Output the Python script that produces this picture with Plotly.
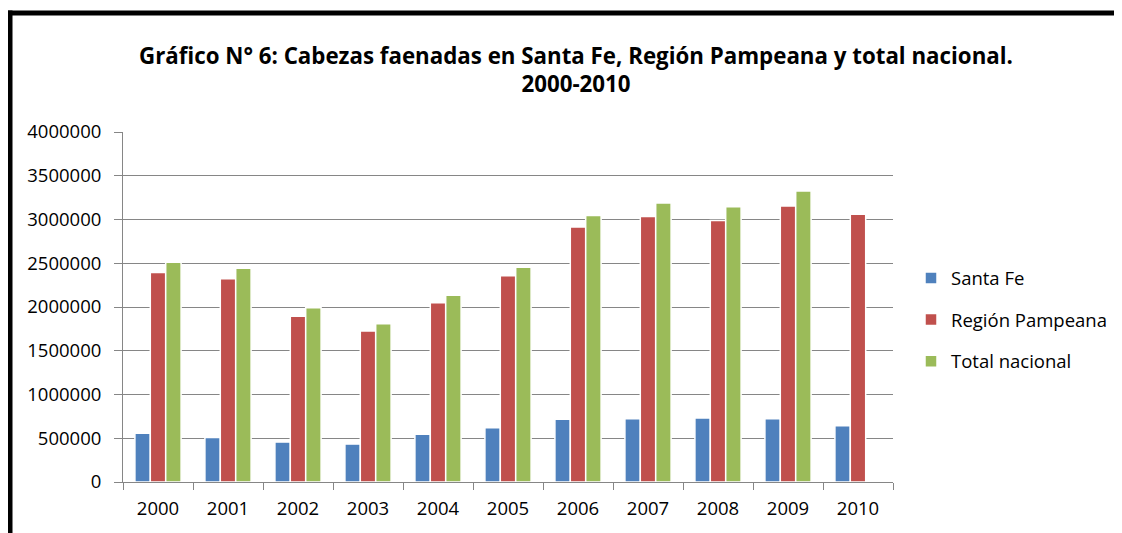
import plotly.graph_objects as go

years = ["2000", "2001", "2002", "2003", "2004", "2005", "2006", "2007", "2008", "2009", "2010"]
santa_fe = [556000, 510000, 456000, 433000, 545000, 621000, 717000, 724000, 732000, 724000, 644000]
region_pampeana = [2393000, 2324000, 1893000, 1725000, 2049000, 2357000, 2913000, 3034000, 2989000, 3153000, 3061000]
total_nacional = [2511000, 2443000, 1992000, 1808000, 2133000, 2454000, 3046000, 3190000, 3146000, 3326000, None]

series_names = ["Santa Fe", "Región Pampeana", "Total nacional"]
colors = ["#4F81BD", "#C0504D", "#9BBB59"]
title_text = "Gráfico N° 6: Cabezas faenadas en Santa Fe, Región Pampeana y total nacional.<br>2000-2010"

FONT = "'Open Sans', Lato, sans-serif"

fig = go.Figure()
for name, vals, col in zip(series_names, [santa_fe, region_pampeana, total_nacional], colors):
    fig.add_trace(go.Bar(
        x=years, y=vals, name=name, legendgroup=name,
        marker=dict(color=col, line=dict(color="white", width=1.5)),
    ))

# page body adds an 8px offset; work in screen pixels and convert
OFF = 8
W, H = 1114, 525
L, T = 115, 123.7
pw = 770
ph = 350.3
R = W - L - pw
B = H - T - ph

def sx(px):
    return (px - OFF - L) / pw

def sy(py):
    return (T + ph - (py - OFF)) / ph

fig.update_layout(
    width=W, height=H,
    margin=dict(l=L, r=R, t=T, b=B, pad=0, autoexpand=False),
    paper_bgcolor="white", plot_bgcolor="white",
    font=dict(family=FONT, size=18.5, color="#000000"),
    title=dict(text="<b>" + title_text + "</b>", x=(576 - OFF) / W, xanchor="center",
               y=1 - (63.5 - OFF) / H, yanchor="middle", yref="container",
               font=dict(family=FONT, size=22.3, color="#000000")),
    barmode="group", bargap=0.34, bargroupgap=0.0,
    showlegend=True,
    legend=dict(xref="container", yref="container",
                x=(911 - OFF) / W, xanchor="left", y=1 - (320 - OFF) / H, yanchor="middle",
                traceorder="grouped", tracegroupgap=14.5, itemwidth=30,
                font=dict(family=FONT, size=18.5, color="#000000"),
                bgcolor="rgba(0,0,0,0)"),
    xaxis=dict(type="category", showgrid=False, showline=True, linecolor="#868686", linewidth=1,
               ticks="outside", tickson="boundaries", ticklen=7, tickcolor="#868686",
               ticklabelstandoff=10, automargin=False,
               tickfont=dict(family=FONT, size=18.5, color="#000000"), zeroline=False),
    yaxis=dict(range=[0, 4000000], dtick=500000, tickformat="d", showgrid=True,
               gridcolor="#868686", gridwidth=1, showline=True, linecolor="#868686", linewidth=1,
               ticks="outside", ticklen=8, tickcolor="#868686",
               ticklabelstandoff=9, automargin=False,
               tickfont=dict(family=FONT, size=18.5, color="#000000"), zeroline=False),
    shapes=[
        dict(type="line", xref="paper", yref="paper",
             x0=sx(8), x1=sx(1140), y0=sy(12.5), y1=sy(12.5),
             line=dict(color="black", width=5)),
        dict(type="line", xref="paper", yref="paper",
             x0=sx(10), x1=sx(10), y0=sy(10), y1=sy(560),
             line=dict(color="black", width=5)),
    ],
)

fig.write_html("out.html")
